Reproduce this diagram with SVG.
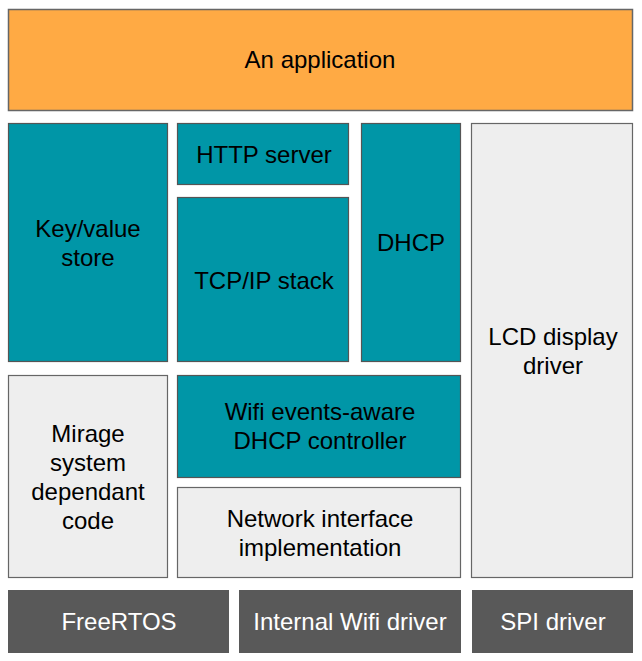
<svg xmlns="http://www.w3.org/2000/svg" width="642" height="661" viewBox="0 0 642 661">
<style>
text{font-family:"Liberation Sans",Arial,sans-serif;font-size:24px;text-anchor:middle;fill:#000}
.app{fill:#ffaa44;stroke:#666;stroke-width:1.5}
.teal{fill:#0096a7;stroke:#555;stroke-width:1.2}
.light{fill:#eeeeee;stroke:#666;stroke-width:1.2}
.dark{fill:#595959;stroke:#595959;stroke-width:1}
.w{fill:#fff}
</style>
<rect width="642" height="661" fill="#fff"/>
<g id="application"><rect class="app" x="8.5" y="9.5" width="624" height="101"/><text x="320" y="68">An application</text></g>
<g id="kv"><rect class="teal" x="8.5" y="123.5" width="159" height="238"/><text x="88" y="237">Key/value</text><text x="88" y="266">store</text></g>
<g id="http"><rect class="teal" x="177.5" y="123.5" width="171" height="61"/><text x="264" y="163">HTTP server</text></g>
<g id="tcpip"><rect class="teal" x="177.5" y="197.5" width="171" height="164"/><text x="264" y="289">TCP/IP stack</text></g>
<g id="dhcp"><rect class="teal" x="361.5" y="123.5" width="99" height="238"/><text x="411" y="251">DHCP</text></g>
<g id="lcd"><rect class="light" x="471.5" y="123.5" width="161" height="454"/><text x="553" y="345">LCD display</text><text x="553" y="374">driver</text></g>
<g id="mirage"><rect class="light" x="8.5" y="375.5" width="159" height="202"/><text x="88" y="442">Mirage</text><text x="88" y="471">system</text><text x="88" y="500">dependant</text><text x="88" y="529">code</text></g>
<g id="wifictl"><rect class="teal" x="177.5" y="375.5" width="283" height="102"/><text x="320" y="420">Wifi events-aware</text><text x="320" y="449">DHCP controller</text></g>
<g id="netif"><rect class="light" x="177.5" y="487.5" width="283" height="90"/><text x="320" y="527">Network interface</text><text x="320" y="556">implementation</text></g>
<g id="freertos"><rect class="dark" x="8.5" y="590.5" width="220" height="62"/><text class="w" x="119" y="630">FreeRTOS</text></g>
<g id="wifidrv"><rect class="dark" x="239.5" y="590.5" width="221" height="62"/><text class="w" x="350" y="630">Internal Wifi driver</text></g>
<g id="spi"><rect class="dark" x="472.5" y="590.5" width="160" height="62"/><text class="w" x="553" y="630">SPI driver</text></g>
<g id="connectors"></g>
</svg>
